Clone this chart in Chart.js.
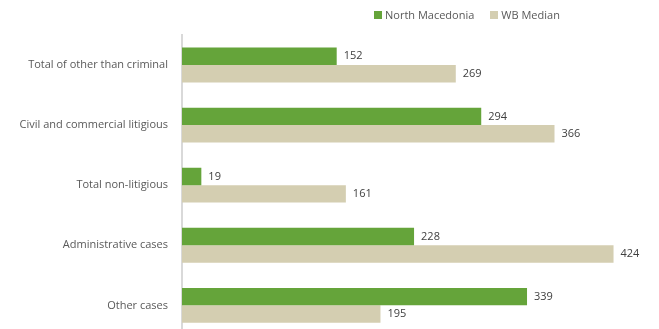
<!DOCTYPE html>
<html>
<head>
<meta charset="utf-8">
<script src="https://cdn.jsdelivr.net/npm/chart.js@4"></script>
<style>
  html, body { margin: 0; padding: 0; background: #fff; overflow: hidden; }
  #wrap { position: relative; width: 659px; height: 348px; }
  #legend { position: absolute; top: 7px; left: 374px; font: 11px "Open Sans", sans-serif; color: #595959; display: flex; }
  #legend span.item { display: flex; align-items: center; margin-right: 16px; }
  #legend span.box { width: 8px; height: 8px; margin-right: 3px; display: inline-block; }
</style>
</head>
<body>
<div id="wrap">
  <canvas id="chart" width="659" height="348"></canvas>
  <div id="legend"></div>
</div>
<script>
// Case categories and values
const categories = [
    'Total of other than criminal',
    'Civil and commercial litigious',
    'Total non-litigious',
    'Administrative cases',
    'Other cases'
];
const northMacedonia = [152, 294, 19, 228, 339];
const wbMedian = [269, 366, 161, 424, 195];

const seriesNames = ['North Macedonia', 'WB Median'];
const seriesColors = ['#65a43a', '#d4ceb1'];

const textColor = '#595959';
const fontFamily = '"Open Sans", sans-serif';

// Draw value labels at the end of each bar
const valueLabels = {
    id: 'valueLabels',
    afterDatasetsDraw(chart) {
        const ctx = chart.ctx;
        ctx.save();
        ctx.font = '11px ' + fontFamily;
        ctx.fillStyle = '#404040';
        ctx.textBaseline = 'middle';
        ctx.textAlign = 'left';
        chart.data.datasets.forEach((ds, i) => {
            chart.getDatasetMeta(i).data.forEach((bar, j) => {
                ctx.fillText(ds.data[j], bar.x + 7, bar.y);
            });
        });
        ctx.restore();
    }
};

const chart = new Chart(document.getElementById('chart'), {
    type: 'bar',
    data: {
        labels: categories,
        datasets: [
            { label: seriesNames[0], data: northMacedonia, backgroundColor: seriesColors[0] },
            { label: seriesNames[1], data: wbMedian, backgroundColor: seriesColors[1] }
        ]
    },
    options: {
        indexAxis: 'y',
        responsive: false,
        animation: false,
        categoryPercentage: 0.58,
        barPercentage: 1.0,
        layout: { padding: { top: 35, right: 19, left: 0, bottom: 0 } },
        plugins: {
            legend: { display: false },
            tooltip: { enabled: false }
        },
        scales: {
            x: {
                display: false,
                min: 0,
                max: 450
            },
            y: {
                grid: { display: false },
                border: { display: true, color: '#d9d9d9', width: 2 },
                ticks: {
                    color: textColor,
                    padding: 6,
                    font: { family: fontFamily, size: 11 }
                },
                afterFit(scale) {
                    scale.width = 182;
                }
            }
        }
    },
    plugins: [valueLabels]
});

// Legend
const legend = document.getElementById('legend');
seriesNames.forEach((name, i) => {
    const item = document.createElement('span');
    item.className = 'item';
    item.innerHTML = `<span class="box" style="background:${seriesColors[i]}"></span>${name}`;
    legend.appendChild(item);
});
</script>
</body>
</html>
